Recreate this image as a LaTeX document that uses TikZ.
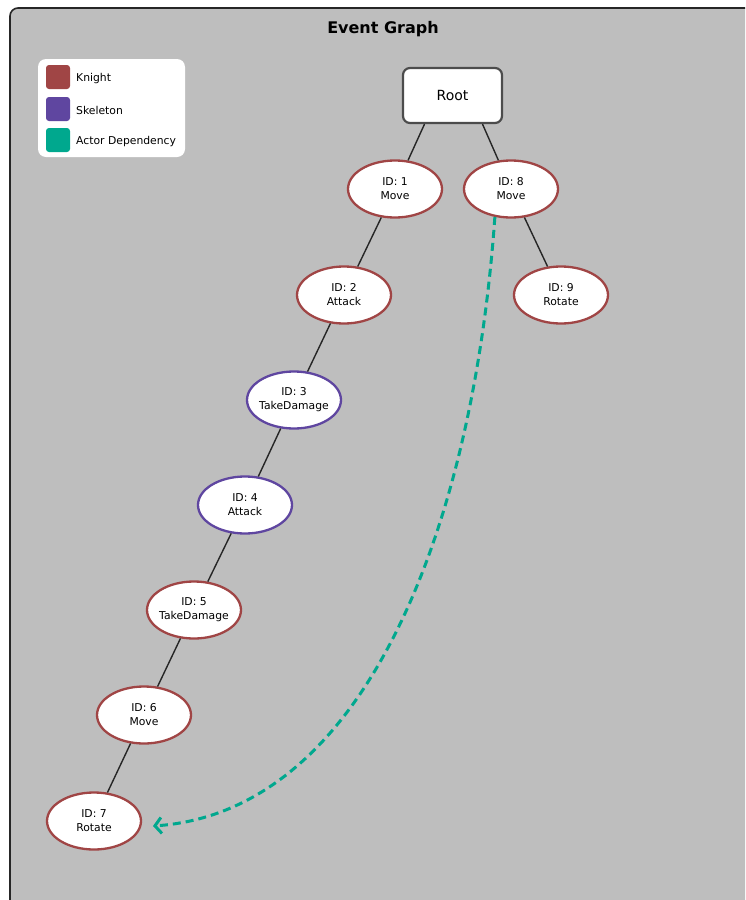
\documentclass[tikz,border=0pt]{standalone}
\usepackage{fontspec}
\setmainfont{DejaVu Sans}
\usepackage{xcolor}
\usetikzlibrary{shapes.geometric, arrows.meta, positioning}

\definecolor{knight}{RGB}{160,69,69}
\definecolor{skeleton}{RGB}{95,70,160}
\definecolor{depend}{RGB}{0,168,142}
\definecolor{panel}{RGB}{190,190,190}

\tikzset{
	event/.style={ellipse, draw=#1, line width=2.3pt, fill=white,
		minimum width=94pt, minimum height=57pt, inner ysep=0pt, inner xsep=-6pt,
		align=center, font=\fontsize{10.8}{14}\selectfont},
	rootbox/.style={rectangle, rounded corners=7pt, draw=black!70, line width=2.2pt,
		fill=white, minimum width=99pt, minimum height=55pt,
		font=\fontsize{14}{16}\selectfont},
	swatch/.style={rectangle, rounded corners=3pt, fill=#1,
		minimum width=24pt, minimum height=24pt, inner sep=0pt},
	legtext/.style={right, inner sep=0pt, font=\fontsize{10.8}{12.5}\selectfont},
	tie/.style={draw=black!85, line width=1.4pt}
}

\begin{document}
\begin{tikzpicture}[x=1pt, y=-1pt]
	\useasboundingbox (0,0) rectangle (745,900);
	\clip (0,0) rectangle (745,900);
	
	\draw [fill=panel, draw=black!85, line width=1.6pt, rounded corners=8pt]
	(10,8) rectangle (775,930);
	\node (title) at (383,29.5) {\fontsize{16}{19}\selectfont\bfseries Event Graph};
	
	% legend
	\draw [fill=white, draw=none, rounded corners=8pt] (38,59) rectangle (185,157);
	\node [swatch=knight] (kn) at (58,77) {};
	\node [swatch=skeleton] (sk) at (58,109) {};
	\node [swatch=depend] (ad) at (58,140) {};
	\node [legtext] (knl) at (76,78.5) {Knight};
	\node [legtext] (skl) at (76,110.5) {Skeleton};
	\node [legtext] (adl) at (76,141.5) {Actor Dependency};
	
	% events
	\node [rootbox] (root) at (452.5,95.5) {Root};
	\node [event=knight] (e1) at (395,189) {ID: 1\\Move};
	\node [event=knight] (e2) at (344,295) {ID: 2\\Attack};
	\node [event=skeleton] (e3) at (294,400) {ID: 3\\TakeDamage};
	\node [event=skeleton] (e4) at (245,505) {ID: 4\\Attack};
	\node [event=knight] (e5) at (194,610) {ID: 5\\TakeDamage};
	\node [event=knight] (e6) at (144,715) {ID: 6\\Move};
	\node [event=knight] (e7) at (94,821) {ID: 7\\Rotate};
	\node [event=knight] (e8) at (511,189) {ID: 8\\Move};
	\node [event=knight] (e9) at (561,295) {ID: 9\\Rotate};
	
	\draw [tie] ([xshift=-28pt]root.south) -- (e1);
	\draw [tie] ([xshift=30pt]root.south) -- (e8);
	\draw [tie] (e8) -- (e9);
	\foreach \a/\b in {e1/e2, e2/e3, e3/e4, e4/e5, e5/e6, e6/e7}
		\draw [tie] (\a) -- (\b);
	
	\coordinate (hit) at (153,826);
	\draw [depend, line width=3pt, dash pattern=on 8pt off 5pt,
		-{Straight Barb[length=6.5pt, width=16pt, line width=3pt]}]
	(e8.240) .. controls (472,540) and (360,812) .. (hit);
\end{tikzpicture}
\end{document}
